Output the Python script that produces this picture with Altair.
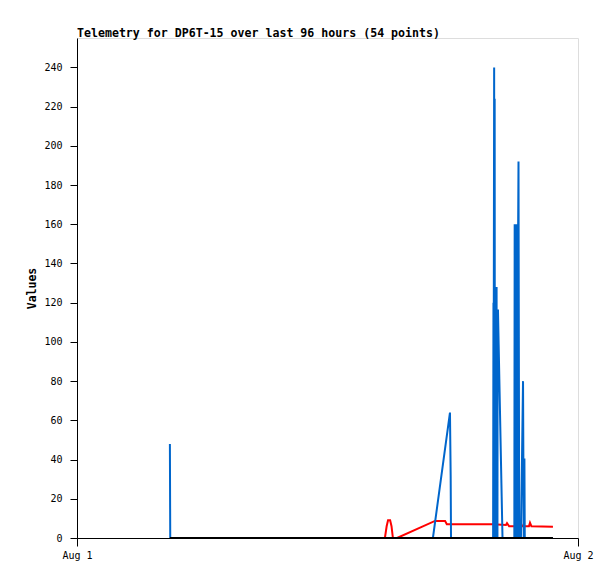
import altair as alt
import pandas as pd

# minutes since Aug 1 00:00 and values
blue_min = [267, 268, 1023, 1072, 1074, 1075,
            1196, 1197, 1197.5, 1198, 1199, 1199.5, 1200.5, 1201, 1201.5, 1202, 1203,
            1203.5, 1204, 1204.5, 1205, 1205.5, 1206, 1206.5, 1207, 1207.5, 1208,
            1208.5, 1209, 1210, 1223,
            1257, 1258, 1258.5, 1259, 1259.5, 1260, 1260.5, 1261, 1261.5, 1262,
            1262.5, 1263, 1263.5, 1264, 1264.5, 1265, 1265.5, 1266, 1266.5, 1267,
            1267.5, 1268, 1269, 1271,
            1276, 1279, 1282, 1283, 1284, 1284.5, 1285, 1285.5, 1286, 1287, 1368]
blue_val = [48, 0, 0, 64, 32, 0,
            0, 120, 0, 120, 240, 0, 224, 0, 128, 0, 128,
            0, 128, 0, 128, 0, 128, 0, 116, 0, 116,
            0, 116, 116, 0,
            0, 160, 0, 160, 0, 160, 0, 160, 0, 160,
            0, 160, 0, 160, 0, 160, 0, 160, 0, 160,
            0, 160, 192, 0,
            0, 40, 80, 40, 0, 40, 0, 40, 40, 0, 0]

red_min = [885, 890, 894, 900, 904, 908, 920, 1029, 1058, 1063, 1196, 1233, 1236, 1242,
           1273, 1276, 1280, 1299, 1302, 1306, 1368]
red_val = [0, 6, 9, 9, 6, 0, 0, 8.7, 8.7, 7.0, 7.0, 6.6, 7.6, 6.0,
           6.0, 7.4, 6.0, 6.0, 7.8, 6.0, 5.8]

black_min = [267, 1368]
black_val = [0, 0]

x_tick_values = [0, 1440]
x_tick_labels = ["Aug 1", "Aug 2"]
y_ticks = list(range(0, 241, 20))

title_text = "Telemetry for DP6T-15 over last 96 hours (54 points)"
FONT = "DejaVu Sans Mono"


def frame(mins, vals):
    return pd.DataFrame({"t": mins, "v": vals, "o": list(range(len(mins)))})


label_expr = " : ".join(
    f"datum.value == {v} ? '{l}'" for v, l in zip(x_tick_values, x_tick_labels)
) + " : ''"

x_enc = alt.X("t:Q", scale=alt.Scale(domain=[0, 1440], nice=False, zero=False),
              axis=alt.Axis(values=x_tick_values, labelExpr=label_expr, title=None,
                            grid=False, tickSize=8, labelPadding=4, labelFlush=False,
                            labelFont=FONT, labelFontSize=10, labelColor="black",
                            domainColor="black", tickColor="black"))
y_enc = alt.Y("v:Q", scale=alt.Scale(domain=[0, 255], nice=False),
              axis=alt.Axis(values=y_ticks, title="Values", grid=False, tickSize=7,
                            labelPadding=8, titlePadding=6,
                            labelFont=FONT, labelFontSize=10, labelColor="black",
                            titleFont=FONT, titleFontSize=11.5, titleFontWeight="bold",
                            titleColor="black", domainColor="black", tickColor="black"))


def layer(df, color, width):
    return alt.Chart(df).mark_line(color=color, strokeWidth=width, clip=True).encode(
        x=x_enc, y=y_enc, order="o:Q")


chart = alt.layer(
    layer(frame(red_min, red_val), "#FF0000", 2),
    layer(frame(blue_min, blue_val), "#0066CC", 2),
    layer(frame(black_min, black_val), "#000000", 2),
).properties(
    width=501, height=500,
    title=alt.TitleParams(title_text, anchor="start", frame="group", font=FONT,
                          fontSize=11.6, fontWeight="bold", color="black", offset=-2),
    autosize=alt.AutoSizeParams(type="none"),
    padding={"left": 69, "top": 30, "right": 29, "bottom": 32},
).configure_view(stroke="#555555", strokeWidth=1).configure(background="white")

chart.save("out.html", embed_options={"renderer": "svg", "actions": False})
